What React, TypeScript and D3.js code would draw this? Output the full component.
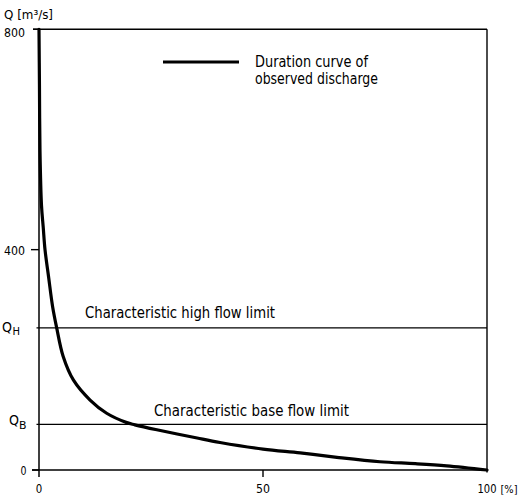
import React from "react";
import * as d3 from "d3";

// ---- data ----
const durationPct = [0, 0.1, 0.22, 0.56, 0.95, 1.34, 2.15, 3.05, 3.95, 5.4, 7.7, 11.4, 15.1, 19.6, 21.4, 26.3, 35.3, 40.4, 50, 58.3, 66.5, 76.1, 84, 91, 100];
const dischargeQ = [800, 700, 580, 480, 440, 400, 350, 296, 258, 206, 163, 127, 103, 86, 82, 73, 58, 50, 38, 31, 23, 15, 11.5, 7.5, 0];

const yTickValues = [0, 400, 800];
const yTickLabels = ["0", "400", "800"];
const xTickValues = [0, 50, 100];
const xTickLabels = ["0", "50", "100"];
const xUnit = "[%]";

const limitNames = ["H", "B"];
const limitValues = [258, 83];
const limitTexts = ["Characteristic high flow limit", "Characteristic base flow limit"];

const legendLines = ["Duration curve of", "observed discharge"];
const yAxisTitle = "Q [m³/s]";

const FONT = "'DejaVu Sans', sans-serif";

export default function App() {
  const W = 520, H = 498;
  const x = d3.scaleLinear().domain([0, 100]).range([39, 487]);
  const y = d3.scaleLinear().domain([0, 800]).range([470, 29.3]);

  const pts: [number, number][] = durationPct.map((p, i) => [p, dischargeQ[i]]);
  const line = d3
    .line<[number, number]>()
    .x((d) => x(d[0]))
    .y((d) => y(d[1]))
    .curve(d3.curveCatmullRom.alpha(0.5));

  const x0 = x(0), x1 = x(100);
  const yTop = y(800), yZero = y(0);

  // positional tweaks for tick labels
  const yLabelEnd = [26.5, 25, 25];
  const yLabelDy = [5, 5, 7.5];
  const yTickStart = [32, 31, 33];
  const xLabelLen = [6.5, 14, 19];

  const limitLabelX = [[2, 12.5], [9, 19]];
  const limitTextX = [85, 154];
  const limitTextLen = [190, 195];
  const limitTextDy = [-9.7, -8];

  return (
    <svg
      width={W}
      height={H}
      style={{ position: "absolute", left: 0, top: 0, background: "#fff" }}
      fontFamily={FONT}
    >
      <rect x={0} y={0} width={W} height={H} fill="#fff" />
      {/* frame: top and right */}
      <line x1={33} x2={x1} y1={yTop} y2={yTop} stroke="#000" strokeWidth={1.4} />
      <line x1={x1} x2={x1} y1={yTop} y2={yZero + 2.5} stroke="#000" strokeWidth={1.4} />
      {/* y axis */}
      <line x1={x0} x2={x0} y1={yTop} y2={yZero + 7} stroke="#000" strokeWidth={1.5} />
      {/* x axis line */}
      <line x1={32} x2={x1} y1={yZero} y2={yZero} stroke="#000" strokeWidth={1.3} />

      {/* y ticks */}
      {yTickValues.map((v, i) => (
        <g key={"yt" + i}>
          <line x1={yTickStart[i]} x2={x0} y1={y(v)} y2={y(v)} stroke="#000" strokeWidth={1.4} />
          <text
            x={yLabelEnd[i]}
            y={y(v) + yLabelDy[i]}
            textAnchor="end"
            fontSize={13}
            textLength={i === 0 ? 6 : 21}
            lengthAdjust="spacingAndGlyphs"
          >
            {yTickLabels[i]}
          </text>
        </g>
      ))}

      {/* x ticks */}
      {xTickValues.map((v, i) => (
        <g key={"xt" + i}>
          {i === 1 && (
            <line x1={x(v)} x2={x(v)} y1={yZero} y2={yZero + 7} stroke="#000" strokeWidth={1.4} />
          )}
          <text
            x={x(v)}
            y={493}
            textAnchor="middle"
            fontSize={13}
            textLength={xLabelLen[i]}
            lengthAdjust="spacingAndGlyphs"
          >
            {xTickLabels[i]}
          </text>
        </g>
      ))}
      <text x={x(100) + 13.5} y={493} fontSize={11} textLength={17} lengthAdjust="spacingAndGlyphs">
        {xUnit}
      </text>

      {/* characteristic limits */}
      {limitValues.map((v, i) => (
        <g key={"lim" + i}>
          <line x1={36.5} x2={x1} y1={y(v)} y2={y(v)} stroke="#000" strokeWidth={1.3} />
          <text x={limitLabelX[i][0]} y={y(v) + (i === 0 ? 4.5 : 1)} fontSize={13.5} textLength={10} lengthAdjust="spacingAndGlyphs">
            Q
          </text>
          <text x={limitLabelX[i][1]} y={y(v) + (i === 0 ? 7.5 : 5)} fontSize={11} textLength={7.5} lengthAdjust="spacingAndGlyphs">
            {limitNames[i]}
          </text>
          <text
            x={limitTextX[i]}
            y={y(v) + limitTextDy[i]}
            fontSize={15}
            textLength={limitTextLen[i]}
            lengthAdjust="spacingAndGlyphs"
          >
            {limitTexts[i]}
          </text>
        </g>
      ))}

      {/* y axis title */}
      <text x={4} y={18.5} fontSize={12.5} textLength={49} lengthAdjust="spacingAndGlyphs">
        {yAxisTitle}
      </text>

      {/* duration curve */}
      <path d={line(pts) || ""} fill="none" stroke="#000" strokeWidth={3.2} strokeLinejoin="round" strokeLinecap="round" />

      {/* legend */}
      <line x1={163} x2={239} y1={62} y2={62} stroke="#000" strokeWidth={3} />
      <text x={255} y={67} fontSize={15} textLength={113} lengthAdjust="spacingAndGlyphs">
        {legendLines[0]}
      </text>
      <text x={255} y={83.5} fontSize={15} textLength={123} lengthAdjust="spacingAndGlyphs">
        {legendLines[1]}
      </text>
    </svg>
  );
}
